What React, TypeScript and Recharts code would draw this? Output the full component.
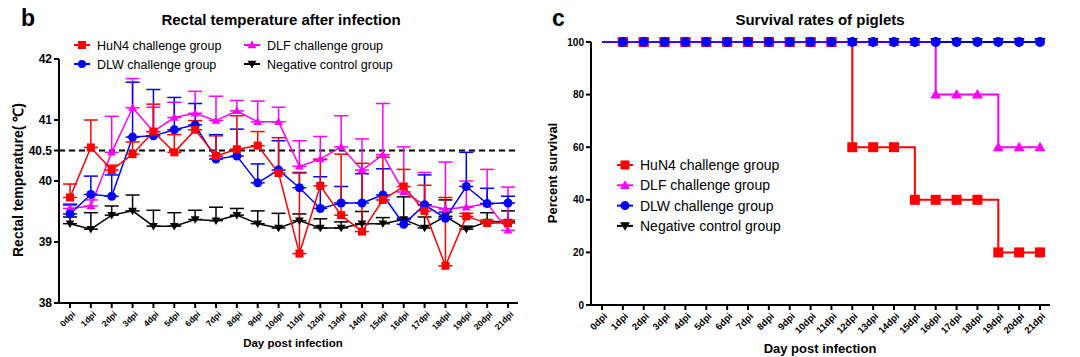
import React from 'react';
import { LineChart, Line, XAxis, YAxis, ErrorBar, ReferenceLine } from 'recharts';

const FONT = 'Arial, "Liberation Sans", sans-serif';

const days = [
  '0dpi', '1dpi', '2dpi', '3dpi', '4dpi', '5dpi', '6dpi', '7dpi', '8dpi', '9dpi', '10dpi',
  '11dpi', '12dpi', '13dpi', '14dpi', '15dpi', '16dpi', '17dpi', '18dpi', '19dpi', '20dpi', '21dpi',
];

// rectal temperature, mean and SD (upper bar only)
const hun4Temp = [39.73, 40.55, 40.18, 40.44, 40.81, 40.47, 40.84, 40.41, 40.52, 40.58, 40.13, 38.81, 39.92, 39.44, 39.17, 39.69, 39.91, 39.51, 38.61, 39.42, 39.31, 39.31];
const hun4Sd = [0.22, 0.45, 0.08, 0.2, 0.45, 0.29, 0.15, 0.33, 0.55, 0.23, 0.58, 1.32, 0.43, 1.0, 1.12, 0.7, 0.28, 0.42, 1.12, 0.05, 0.05, 0.05];
const dlfTemp = [39.55, 39.59, 40.47, 41.2, 40.81, 41.04, 41.11, 40.99, 41.15, 40.97, 40.97, 40.24, 40.36, 40.56, 40.18, 40.43, 39.82, 39.61, 39.54, 39.57, 39.63, 39.19];
const dlfSd = [0.05, 0.1, 0.59, 0.48, 0.4, 0.25, 0.36, 0.4, 0.17, 0.34, 0.24, 0.42, 0.37, 0.51, 0.51, 0.84, 0.74, 0.53, 0.77, 0.43, 0.56, 0.71];
const dlwTemp = [39.46, 39.78, 39.75, 40.72, 40.74, 40.84, 40.92, 40.36, 40.41, 39.97, 40.18, 39.89, 39.55, 39.64, 39.64, 39.77, 39.29, 39.61, 39.39, 39.91, 39.63, 39.64];
const dlwSd = [0.16, 0.3, 0.35, 0.9, 0.76, 0.53, 0.35, 0.4, 0.44, 0.31, 0.48, 0.25, 0.52, 0.27, 0.48, 0.43, 0.1, 0.49, 0.1, 0.56, 0.25, 0.11];
const ctrlTemp = [39.3, 39.21, 39.44, 39.51, 39.26, 39.26, 39.37, 39.35, 39.44, 39.3, 39.23, 39.35, 39.23, 39.23, 39.3, 39.3, 39.37, 39.23, 39.42, 39.21, 39.33, 39.33];
const ctrlSd = [0.11, 0.27, 0.15, 0.26, 0.26, 0.22, 0.15, 0.22, 0.11, 0.21, 0.24, 0.11, 0.15, 0.1, 0.2, 0.1, 0.37, 0.18, 0.27, 0.05, 0.15, 0.18];

const tempTicks = [38, 39, 40, 40.5, 41, 42];
const feverLine = 40.5;

// survival (%)
const hun4Surv = [100, 100, 100, 100, 100, 100, 100, 100, 100, 100, 100, 100, 60, 60, 60, 40, 40, 40, 40, 20, 20, 20];
const dlfSurv = [100, 100, 100, 100, 100, 100, 100, 100, 100, 100, 100, 100, 100, 100, 100, 100, 80, 80, 80, 60, 60, 60];
const dlwSurv = [100, 100, 100, 100, 100, 100, 100, 100, 100, 100, 100, 100, 100, 100, 100, 100, 100, 100, 100, 100, 100, 100];
const ctrlSurv = [100, 100, 100, 100, 100, 100, 100, 100, 100, 100, 100, 100, 100, 100, 100, 100, 100, 100, 100, 100, 100, 100];
const survTicks = [0, 20, 40, 60, 80, 100];

const tempData = days.map((day, i) => ({
  day,
  hun4: hun4Temp[i], hun4Err: [0, hun4Sd[i]],
  dlf: dlfTemp[i], dlfErr: [0, dlfSd[i]],
  dlw: dlwTemp[i], dlwErr: [0, dlwSd[i]],
  ctrl: ctrlTemp[i], ctrlErr: [0, ctrlSd[i]],
}));

const survData = days.map((day, i) => ({
  day, hun4: hun4Surv[i], dlf: dlfSurv[i], dlw: dlwSurv[i], ctrl: ctrlSurv[i],
}));

const RED = '#ff0000';
const PINK = '#ff00ff';
const BLUE = '#0000ff';
const BLACK = '#000000';

type Shape = 'square' | 'circle' | 'up' | 'down';

function Marker({ shape, cx, cy, r, color }: { shape: Shape; cx: number; cy: number; r: number; color: string }) {
  if (shape === 'square') return <rect x={cx - r} y={cy - r} width={2 * r} height={2 * r} fill={color} />;
  if (shape === 'circle') return <circle cx={cx} cy={cy} r={r} fill={color} />;
  if (shape === 'up')
    return <polygon points={`${cx},${cy - r * 1.1} ${cx - r * 1.1},${cy + r * 0.8} ${cx + r * 1.1},${cy + r * 0.8}`} fill={color} />;
  return <polygon points={`${cx},${cy + r * 1.1} ${cx - r * 1.1},${cy - r * 0.8} ${cx + r * 1.1},${cy - r * 0.8}`} fill={color} />;
}

const dotFor = (shape: Shape, color: string, r: number, skipFirst = false) => (props: any) => {
  const { cx, cy, index } = props;
  if (cx == null || cy == null || (skipFirst && index === 0)) return <g key={`d${index}`} />;
  return <Marker key={`d${index}`} shape={shape} cx={cx} cy={cy} r={r} color={color} />;
};

const DayTick = (props: any) => {
  const { x, y, payload, fontSize } = props;
  return (
    <g transform={`translate(${x + 3},${y + 2})`}>
      <text x={0} y={0} dy={4} textAnchor="end" transform="rotate(-45)" fontSize={fontSize} fontWeight={700} fontFamily={FONT} fill="#000">
        {payload.value}
      </text>
    </g>
  );
};

const series = [
  { name: 'HuN4 challenge group', color: RED, shape: 'square' as Shape },
  { name: 'DLF challenge group', color: PINK, shape: 'up' as Shape },
  { name: 'DLW challenge group', color: BLUE, shape: 'circle' as Shape },
  { name: 'Negative control group', color: BLACK, shape: 'down' as Shape },
];

function LegendItem({ x, y, item, size, r }: { x: number; y: number; item: (typeof series)[number]; size: number; r: number }) {
  return (
    <g>
      <line x1={x - 8} x2={x + 8} y1={y} y2={y} stroke={item.color} strokeWidth={2} />
      <Marker shape={item.shape} cx={x} cy={y} r={r} color={item.color} />
      <text x={x + 15} y={y + size * 0.36} fontSize={size} fontFamily={FONT} fill="#000">
        {item.name}
      </text>
    </g>
  );
}

const axisStyle = { stroke: '#000', strokeWidth: 2 };

export default function App() {
  const leftLegend = [
    { item: series[0], x: 82, y: 45 },
    { item: series[1], x: 252, y: 45 },
    { item: series[2], x: 82, y: 64 },
    { item: series[3], x: 252, y: 64 },
  ];
  return (
    <div style={{ position: 'absolute', left: 0, top: 0, width: 1080, height: 357, background: '#fff', fontFamily: FONT }}>
      <div style={{ position: 'absolute', left: 0, top: 0 }}>
        <LineChart width={540} height={357} data={tempData} margin={{ top: 59, right: 22, bottom: 9, left: 19 }}>
          <XAxis
            dataKey="day"
            interval={0}
            padding={{ left: 11, right: 10 }}
            axisLine={axisStyle}
            tickLine={axisStyle}
            tickSize={5}
            height={45}
            tick={<DayTick fontSize={8.5} />}
          />
          <YAxis
            domain={[38, 42]}
            ticks={tempTicks}
            interval={0}
            width={40}
            axisLine={axisStyle}
            tickLine={axisStyle}
            tickSize={5}
            tick={{ fontSize: 12, fontWeight: 700, fill: '#000', fontFamily: FONT }}
          />
          <ReferenceLine y={feverLine} stroke="#000" strokeWidth={2} strokeDasharray="6 4" />
          <Line dataKey="ctrl" stroke={BLACK} strokeWidth={1.5} isAnimationActive={false} dot={dotFor('down', BLACK, 4)}>
            <ErrorBar dataKey="ctrlErr" direction="y" width={7} stroke={BLACK} strokeWidth={1.5} isAnimationActive={false} />
          </Line>
          <Line dataKey="dlf" stroke={PINK} strokeWidth={1.5} isAnimationActive={false} dot={dotFor('up', PINK, 4)}>
            <ErrorBar dataKey="dlfErr" direction="y" width={7} stroke={PINK} strokeWidth={1.5} isAnimationActive={false} />
          </Line>
          <Line dataKey="dlw" stroke={BLUE} strokeWidth={1.5} isAnimationActive={false} dot={dotFor('circle', BLUE, 4.5)}>
            <ErrorBar dataKey="dlwErr" direction="y" width={7} stroke={BLUE} strokeWidth={1.5} isAnimationActive={false} />
          </Line>
          <Line dataKey="hun4" stroke={RED} strokeWidth={1.5} isAnimationActive={false} dot={dotFor('square', RED, 4)}>
            <ErrorBar dataKey="hun4Err" direction="y" width={7} stroke={RED} strokeWidth={1.5} isAnimationActive={false} />
          </Line>
        </LineChart>
      </div>
      <div style={{ position: 'absolute', left: 540, top: 0 }}>
        <LineChart width={540} height={357} data={survData} margin={{ top: 42, right: 30, bottom: 7, left: 11 }}>
          <XAxis
            dataKey="day"
            interval={0}
            padding={{ left: 11, right: 10 }}
            axisLine={axisStyle}
            tickLine={axisStyle}
            tickSize={5}
            height={45}
            tick={<DayTick fontSize={9.5} />}
          />
          <YAxis
            domain={[0, 100]}
            ticks={survTicks}
            interval={0}
            width={40}
            axisLine={axisStyle}
            tickLine={axisStyle}
            tickSize={5}
            tick={{ fontSize: 10, fontWeight: 700, fill: '#000', fontFamily: FONT }}
          />
          <Line type="stepAfter" dataKey="ctrl" stroke={BLACK} strokeWidth={2} isAnimationActive={false} dot={dotFor('down', BLACK, 5, true)} />
          <Line type="stepAfter" dataKey="hun4" stroke={RED} strokeWidth={2} isAnimationActive={false} dot={dotFor('square', RED, 5, true)} />
          <Line type="stepAfter" dataKey="dlf" stroke={PINK} strokeWidth={2} isAnimationActive={false} dot={dotFor('up', PINK, 5, true)} />
          <Line type="stepAfter" dataKey="dlw" stroke={BLUE} strokeWidth={1.5} isAnimationActive={false} dot={dotFor('circle', BLUE, 5, true)} />
        </LineChart>
      </div>
      <svg width={1080} height={357} style={{ position: 'absolute', left: 0, top: 0, pointerEvents: 'none' }}>
        <text x={21} y={26} fontSize={23} fontWeight={700} fontFamily={FONT}>b</text>
        <text x={281} y={25} fontSize={15} fontWeight={700} fontFamily={FONT} textAnchor="middle">Rectal temperature after infection</text>
        <text transform="translate(23,180) rotate(-90)" fontSize={14} fontWeight={700} fontFamily={FONT} textAnchor="middle">Rectal temperature( ℃)</text>
        <text x={293} y={347} fontSize={11.5} fontWeight={700} fontFamily={FONT} textAnchor="middle">Day post infection</text>
        {leftLegend.map((l) => (
          <LegendItem key={l.item.name} x={l.x} y={l.y} item={l.item} size={12.5} r={4} />
        ))}

        <text x={552} y={26} fontSize={23} fontWeight={700} fontFamily={FONT}>c</text>
        <text x={820} y={25} fontSize={15} fontWeight={700} fontFamily={FONT} textAnchor="middle">Survival rates of piglets</text>
        <text transform="translate(557,173) rotate(-90)" fontSize={13} fontWeight={700} fontFamily={FONT} textAnchor="middle">Percent survival</text>
        <text x={820} y={353} fontSize={13} fontWeight={700} fontFamily={FONT} textAnchor="middle">Day post infection</text>
        {series.map((s, i) => (
          <LegendItem key={s.name} x={625} y={165 + i * 20.3} item={s} size={14} r={4.5} />
        ))}
      </svg>
    </div>
  );
}
